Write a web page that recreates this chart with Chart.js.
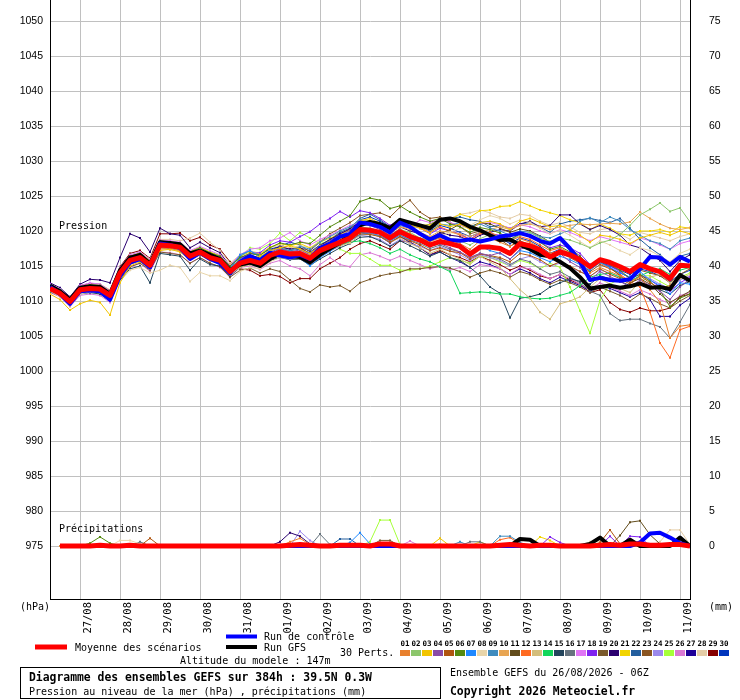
<!DOCTYPE html>
<html>
<head>
<meta charset="utf-8">
<script src="https://cdn.jsdelivr.net/npm/chart.js@4.4.1/dist/chart.umd.min.js"></script>
<style>
  html, body { margin: 0; padding: 0; background: #fff; }
  canvas { display: block; }
</style>
</head>
<body>
<canvas id="gefs" width="740" height="700"></canvas>
<script>
// echeances (heures depuis 26/08 06Z)
const hours = [0,6,12,18,24,30,36,42,48,54,60,66,72,78,84,90,96,102,108,114,120,126,132,138,144,150,156,162,168,174,180,186,192,198,204,210,216,222,228,234,240,246,252,258,264,270,276,282,288,294,300,306,312,318,324,330,336,342,348,354,360,366,372,378,384];
const dayHours = [18,42,66,90,114,138,162,186,210,234,258,282,306,330,354,378];
const dayLabels = ["27/08","28/08","29/08","30/08","31/08","01/09","02/09","03/09","04/09","05/09","06/09","07/09","08/09","09/09","10/09","11/09"];
const pressTicks = [975,980,985,990,995,1000,1005,1010,1015,1020,1025,1030,1035,1040,1045,1050];
const rainTicks = [0,5,10,15,20,25,30,35,40,45,50,55,60,65,70,75];

// pression
const meanP = [1011.8,1011.1,1009.9,1011.6,1011.8,1011.7,1010.8,1014.0,1015.8,1016.2,
  1015.1,1018.0,1017.9,1017.7,1016.4,1017.0,1016.2,1015.8,1014.2,1015.4,
  1015.8,1015.4,1016.5,1017.0,1016.7,1016.8,1016.1,1017.2,1017.8,1018.4,
  1019.0,1020.2,1020.1,1019.8,1019.0,1019.9,1019.2,1018.7,1018.0,1018.5,
  1018.2,1017.8,1016.7,1017.7,1017.7,1017.5,1016.8,1018.2,1017.9,1017.3,
  1016.3,1017.0,1016.6,1015.9,1014.9,1015.9,1015.5,1014.9,1014.2,1015.2,
  1014.6,1014.2,1013.2,1015.1,1015.0];
const controlP = [1012.0,1011.0,1009.6,1011.4,1011.5,1011.4,1010.2,1013.6,1015.5,1016.0,
  1014.8,1018.2,1018.0,1017.6,1016.0,1016.9,1016.0,1015.4,1014.0,1015.6,
  1016.4,1015.8,1016.9,1016.5,1016.2,1016.6,1016.0,1017.6,1018.2,1019.2,
  1019.6,1021.2,1021.0,1020.6,1019.8,1021.2,1020.6,1019.6,1018.8,1019.4,
  1018.7,1018.6,1018.8,1018.5,1018.8,1019.2,1019.4,1019.7,1019.3,1018.6,
  1018.2,1019.0,1017.5,1015.6,1013.0,1013.3,1013.0,1012.9,1013.1,1014.6,
  1016.3,1016.2,1015.2,1016.3,1015.6];
const gfsP = [1012.2,1011.4,1010.2,1011.9,1012.1,1012.0,1011.0,1014.4,1016.2,1016.6,
  1015.3,1018.4,1018.3,1018.1,1016.8,1017.2,1016.6,1016.0,1014.4,1015.2,
  1015.5,1015.0,1016.0,1016.8,1016.4,1016.3,1015.5,1016.6,1017.5,1018.4,
  1019.4,1020.8,1021.3,1021.0,1020.4,1021.6,1021.2,1020.8,1020.4,1021.6,
  1021.8,1021.4,1020.6,1020.1,1019.4,1018.7,1018.8,1018.0,1017.4,1016.6,
  1016.4,1015.6,1014.7,1013.4,1011.8,1012.0,1012.2,1011.9,1012.1,1012.5,
  1011.9,1012.0,1011.7,1013.7,1012.9];

const p01 = [1011.6,1010.8,1009.5,1011.2,1011.5,1011.6,1010.4,1013.5,1015.2,1015.8,
  1014.9,1017.4,1017.6,1017.2,1016.0,1016.6,1016.0,1015.4,1014.0,1015.0,
  1015.6,1015.1,1016.0,1016.8,1016.9,1016.5,1015.8,1016.9,1017.6,1018.6,
  1019.2,1020.0,1020.3,1019.6,1018.8,1020.1,1019.6,1018.9,1018.5,1019.0,
  1018.7,1018.2,1017.4,1018.6,1019.0,1018.4,1017.8,1018.9,1018.4,1017.6,
  1016.8,1017.2,1016.3,1015.5,1014.0,1014.8,1014.2,1013.6,1012.8,1013.4,
  1011.6,1009.8,1004.7,1006.4,1006.6];
const p02 = [1012.0,1011.4,1010.2,1011.8,1012.2,1012.0,1011.3,1014.3,1016.0,1016.5,
  1015.6,1018.3,1018.0,1017.9,1016.8,1017.4,1016.5,1016.1,1014.6,1015.9,
  1016.3,1015.6,1016.3,1016.6,1016.2,1016.6,1016.5,1017.5,1018.0,1018.7,
  1019.5,1020.6,1020.4,1020.0,1019.3,1020.2,1019.8,1019.0,1018.6,1019.2,
  1018.9,1018.6,1018.0,1018.9,1019.5,1019.2,1018.6,1019.4,1019.8,1019.0,
  1018.5,1019.0,1018.7,1018.2,1017.6,1018.3,1018.7,1019.5,1020.8,1022.3,
  1023.1,1024.0,1022.8,1023.3,1021.3];
const p03 = [1011.0,1010.2,1008.7,1009.6,1010.1,1009.8,1008.0,1012.6,1015.0,1015.6,
  1014.6,1017.2,1017.4,1017.0,1015.9,1016.6,1015.8,1015.3,1014.0,1015.2,
  1016.0,1016.4,1017.2,1017.6,1017.9,1017.4,1016.8,1017.9,1018.4,1018.9,
  1019.8,1021.4,1021.8,1021.1,1020.5,1021.6,1020.9,1020.4,1019.7,1021.0,
  1020.6,1021.0,1020.2,1021.2,1021.4,1021.0,1020.2,1021.4,1021.8,1021.2,
  1020.6,1020.8,1020.2,1019.4,1018.4,1019.4,1019.2,1018.8,1018.2,1019.0,
  1019.4,1019.8,1019.4,1020.0,1019.6];
const p04 = [1011.9,1011.2,1010.0,1011.7,1012.0,1011.9,1011.0,1014.1,1015.9,1016.4,
  1015.3,1018.1,1017.9,1017.6,1016.5,1017.2,1016.4,1015.9,1014.4,1015.7,
  1016.3,1016.0,1017.0,1017.5,1017.0,1017.3,1016.6,1017.8,1018.6,1019.3,
  1020.1,1021.0,1020.8,1020.2,1019.4,1020.3,1019.5,1018.6,1017.8,1018.2,
  1017.6,1017.0,1016.2,1016.8,1016.5,1016.9,1016.0,1017.4,1017.8,1017.0,
  1016.2,1016.8,1015.6,1014.8,1013.0,1014.2,1013.5,1012.8,1012.0,1013.0,
  1012.2,1011.4,1010.2,1012.0,1013.2];
const p05 = [1011.5,1010.9,1009.8,1011.5,1011.6,1011.4,1010.7,1013.8,1015.6,1016.0,
  1014.8,1017.7,1017.8,1017.5,1016.2,1016.9,1016.1,1015.6,1014.3,1015.2,
  1015.6,1015.2,1016.2,1016.8,1016.3,1016.5,1015.7,1016.8,1017.3,1018.0,
  1018.6,1019.6,1019.5,1019.2,1018.4,1019.2,1018.6,1018.0,1017.2,1017.6,
  1017.1,1016.9,1016.0,1016.7,1016.5,1016.2,1015.6,1016.8,1016.5,1015.9,
  1015.0,1015.6,1015.0,1014.2,1013.5,1014.6,1013.8,1013.2,1012.4,1013.6,
  1012.6,1011.8,1012.2,1013.4,1013.0];
const p06 = [1012.1,1011.5,1010.3,1012.0,1012.3,1012.2,1011.2,1014.6,1016.4,1016.8,
  1015.7,1018.6,1018.4,1018.2,1017.0,1017.6,1016.9,1016.4,1015.0,1016.2,
  1016.8,1016.5,1017.6,1018.3,1018.0,1018.4,1018.2,1019.4,1020.6,1021.4,
  1022.2,1024.2,1024.7,1024.4,1023.2,1023.6,1022.7,1022.0,1021.4,1021.8,
  1021.0,1020.6,1019.8,1020.5,1020.2,1019.7,1018.8,1019.6,1019.2,1018.4,
  1017.4,1017.8,1017.0,1016.2,1015.0,1015.8,1015.2,1014.4,1013.2,1013.8,
  1012.8,1011.5,1009.2,1010.4,1011.0];
const p07 = [1011.7,1011.0,1009.8,1011.5,1011.7,1011.8,1010.9,1014.2,1016.1,1016.3,
  1015.4,1018.2,1018.1,1017.8,1016.6,1017.1,1016.3,1015.8,1014.6,1016.6,
  1017.2,1016.4,1016.8,1017.0,1016.4,1016.2,1015.0,1016.2,1017.1,1018.0,
  1018.6,1019.5,1019.8,1019.3,1018.6,1019.4,1018.8,1018.5,1017.9,1018.3,
  1018.0,1017.6,1016.8,1017.8,1017.2,1016.8,1016.0,1017.2,1016.9,1016.2,
  1015.6,1016.4,1015.9,1015.2,1014.4,1015.5,1014.8,1014.0,1013.4,1014.2,
  1013.0,1012.2,1011.0,1012.6,1012.4];
const p08 = [1011.4,1010.6,1009.4,1011.0,1011.3,1011.2,1010.2,1012.8,1014.4,1014.8,
  1014.0,1014.4,1015.1,1014.8,1012.8,1014.1,1013.6,1013.6,1012.9,1014.2,
  1014.8,1014.6,1015.6,1016.2,1016.0,1016.1,1015.6,1016.7,1017.5,1018.2,
  1019.1,1020.0,1020.0,1019.5,1018.7,1019.7,1019.4,1019.0,1018.4,1019.2,
  1019.8,1020.4,1020.8,1021.6,1022.2,1021.8,1021.0,1021.6,1021.2,1020.4,
  1019.6,1020.1,1019.4,1018.5,1017.6,1018.6,1018.0,1017.2,1016.6,1017.6,
  1017.2,1016.4,1015.6,1016.8,1017.4];
const p09 = [1012.3,1011.4,1010.1,1011.9,1012.1,1012.0,1011.1,1014.4,1016.2,1016.7,
  1015.6,1018.5,1018.3,1018.0,1016.9,1017.5,1016.8,1016.3,1014.9,1016.4,
  1017.2,1016.2,1017.2,1017.6,1017.2,1017.8,1017.4,1018.4,1019.2,1020.0,
  1020.6,1021.6,1021.3,1020.8,1020.0,1020.8,1020.4,1020.8,1020.2,1021.0,
  1020.8,1021.2,1020.6,1021.0,1020.4,1020.0,1019.4,1020.0,1019.8,1019.2,
  1019.0,1019.6,1020.1,1021.4,1021.9,1021.2,1022.0,1021.4,1020.2,1019.4,
  1018.6,1018.2,1017.4,1018.6,1019.0];
const p10 = [1011.8,1011.2,1010.0,1011.7,1011.9,1011.9,1011.0,1014.0,1015.8,1016.3,
  1015.2,1018.0,1017.8,1017.6,1016.4,1017.0,1016.2,1015.8,1014.4,1015.6,
  1016.0,1015.7,1016.6,1017.0,1016.8,1017.1,1016.6,1017.6,1018.2,1018.9,
  1019.6,1020.8,1020.9,1020.4,1019.6,1020.6,1020.2,1019.8,1019.2,1020.0,
  1019.8,1019.6,1019.2,1019.8,1020.2,1020.6,1020.2,1020.8,1021.0,1020.6,
  1020.2,1020.6,1020.8,1021.0,1020.9,1021.0,1021.1,1021.0,1021.3,1022.7,
  1021.8,1021.0,1020.4,1020.2,1020.5];
const p11 = [1011.9,1011.2,1010.1,1011.6,1011.9,1011.8,1011.1,1014.2,1016.0,1016.4,
  1015.2,1018.0,1017.8,1017.5,1016.3,1016.9,1016.0,1015.6,1014.0,1015.1,
  1015.4,1015.0,1016.2,1016.6,1016.2,1016.4,1015.9,1017.0,1017.8,1018.6,
  1019.3,1020.4,1020.2,1019.9,1019.0,1020.0,1019.4,1019.0,1018.6,1019.6,
  1020.2,1021.0,1020.6,1021.2,1021.0,1020.4,1019.8,1020.3,1020.0,1019.3,
  1018.4,1018.8,1017.6,1016.4,1015.0,1015.6,1014.8,1013.6,1012.6,1013.2,
  1012.4,1011.0,1009.8,1010.6,1011.4];
const p12 = [1011.7,1011.1,1009.9,1011.4,1011.7,1011.6,1010.7,1013.9,1015.7,1016.1,
  1015.0,1017.9,1017.8,1017.6,1016.2,1016.9,1016.2,1015.6,1014.1,1015.3,
  1015.9,1015.6,1016.7,1017.3,1017.1,1017.0,1016.4,1017.4,1018.0,1018.6,
  1019.2,1020.3,1020.1,1019.7,1019.2,1020.4,1020.8,1020.5,1019.8,1020.6,
  1020.0,1019.4,1018.8,1019.6,1019.8,1019.2,1018.6,1019.2,1018.8,1018.0,
  1017.2,1017.6,1016.8,1015.9,1014.8,1015.4,1014.6,1013.8,1012.8,1012.0,
  1008.4,1004.0,1001.9,1005.9,1006.4];
const p13 = [1011.5,1010.8,1009.6,1011.3,1011.5,1011.4,1010.5,1013.6,1015.3,1015.8,
  1014.8,1017.5,1017.3,1017.2,1015.9,1016.7,1015.8,1015.3,1013.8,1014.8,
  1015.2,1015.0,1016.0,1016.4,1016.0,1016.3,1015.4,1016.5,1017.2,1017.9,
  1018.3,1019.4,1019.6,1019.2,1018.4,1019.0,1018.2,1017.6,1016.8,1017.4,
  1016.6,1016.0,1015.2,1016.4,1015.6,1014.8,1013.2,1011.6,1010.4,1008.4,
  1007.4,1009.6,1010.0,1010.6,1012.0,1013.2,1012.4,1011.8,1011.2,1012.8,
  1013.4,1013.8,1012.6,1013.2,1013.8];
const p14 = [1012.2,1011.6,1010.4,1012.0,1012.1,1011.9,1011.0,1014.5,1016.3,1016.5,
  1015.4,1018.2,1018.0,1017.8,1016.6,1017.4,1016.6,1016.1,1014.7,1015.9,
  1016.2,1015.8,1016.4,1016.9,1016.6,1016.4,1015.8,1016.8,1017.6,1018.0,
  1018.4,1018.6,1018.2,1017.6,1016.8,1017.4,1016.6,1016.0,1015.6,1014.9,
  1014.2,1011.1,1011.2,1011.3,1011.2,1011.0,1011.0,1010.6,1010.4,1010.3,
  1010.4,1010.8,1011.2,1012.2,1013.4,1013.8,1014.0,1013.4,1012.8,1013.6,
  1014.2,1014.6,1013.8,1014.4,1014.8];
const p15 = [1011.3,1010.7,1009.5,1011.0,1011.2,1011.0,1010.0,1013.0,1014.6,1015.0,
  1012.6,1016.8,1016.6,1016.4,1014.4,1016.0,1015.2,1015.0,1013.6,1014.8,
  1015.3,1014.9,1015.8,1016.2,1015.9,1016.0,1015.1,1016.0,1016.8,1017.6,
  1018.2,1019.1,1019.2,1018.6,1017.8,1018.6,1017.9,1017.2,1016.4,1017.0,
  1016.2,1015.8,1014.8,1013.6,1012.0,1011.1,1007.6,1010.4,1010.6,1011.0,
  1012.0,1012.6,1013.2,1012.8,1012.4,1013.6,1013.2,1012.8,1012.2,1012.6,
  1012.2,1011.6,1011.0,1012.2,1012.8];
const p16 = [1011.6,1011.0,1009.8,1011.4,1011.6,1011.5,1010.6,1013.7,1015.5,1015.9,
  1014.9,1017.6,1017.5,1017.3,1016.0,1016.7,1016.0,1015.5,1013.9,1015.0,
  1015.6,1015.3,1016.3,1016.9,1016.5,1016.8,1016.2,1017.1,1017.6,1018.1,
  1018.8,1019.8,1019.7,1019.3,1018.6,1019.4,1018.7,1018.2,1017.5,1018.0,
  1017.4,1017.0,1016.2,1016.8,1016.4,1016.0,1015.2,1016.0,1015.6,1014.6,
  1013.8,1014.2,1013.4,1012.6,1011.4,1010.8,1008.2,1007.2,1007.4,1007.4,
  1006.8,1006.3,1004.7,1007.0,1009.5];
const p17 = [1012.4,1011.7,1010.5,1012.2,1012.6,1012.4,1011.4,1014.8,1016.6,1017.0,
  1015.9,1018.7,1018.6,1018.4,1017.2,1017.8,1017.2,1016.6,1015.1,1016.6,
  1017.4,1017.6,1018.6,1019.0,1019.8,1018.6,1018.0,1018.8,1019.4,1020.1,
  1020.8,1021.2,1021.0,1020.6,1019.8,1020.8,1020.4,1021.6,1021.2,1021.8,
  1021.2,1020.8,1020.4,1021.0,1021.2,1020.9,1020.4,1020.9,1020.6,1020.0,
  1019.6,1020.2,1019.8,1019.2,1018.6,1019.2,1018.8,1018.4,1018.0,1019.0,
  1018.6,1018.0,1017.4,1018.2,1018.6];
const p18 = [1012.0,1011.3,1010.1,1011.8,1012.0,1012.0,1011.1,1014.3,1016.2,1016.6,
  1015.5,1018.4,1018.2,1018.0,1016.8,1017.4,1016.7,1016.2,1014.7,1016.0,
  1016.8,1016.9,1018.0,1018.6,1018.4,1019.2,1019.9,1021.0,1021.8,1022.8,
  1022.0,1022.9,1022.6,1021.8,1020.8,1021.6,1021.0,1020.4,1019.6,1020.4,
  1020.0,1019.6,1018.8,1019.8,1019.6,1019.4,1018.6,1019.6,1019.2,1018.4,
  1017.6,1018.0,1017.6,1016.8,1015.2,1015.8,1015.0,1014.2,1013.2,1013.8,
  1013.0,1012.0,1011.4,1012.6,1013.4];
const p19 = [1011.4,1010.7,1009.4,1011.1,1011.3,1011.1,1010.1,1013.2,1014.9,1015.4,
  1014.4,1017.0,1016.8,1016.6,1015.4,1016.2,1015.4,1014.9,1013.4,1014.4,
  1014.7,1014.0,1014.6,1014.2,1013.0,1011.8,1011.3,1012.3,1012.0,1012.2,
  1011.4,1012.6,1013.1,1013.6,1013.9,1014.1,1014.6,1014.6,1014.8,1014.9,
  1014.7,1014.2,1013.4,1014.0,1014.4,1014.0,1013.4,1014.2,1013.8,1013.0,
  1012.4,1013.0,1012.6,1012.0,1011.2,1012.0,1011.4,1010.8,1010.0,1011.0,
  1010.4,1009.6,1009.0,1010.0,1010.8];
const p20 = [1012.6,1011.9,1010.6,1012.4,1013.1,1013.0,1012.6,1016.2,1019.6,1019.0,
  1017.0,1020.4,1019.6,1019.4,1017.6,1018.4,1017.6,1016.9,1015.0,1016.2,
  1016.6,1016.1,1017.2,1017.8,1017.4,1017.6,1016.8,1017.9,1018.8,1019.6,
  1020.3,1021.4,1021.2,1020.6,1019.8,1020.6,1020.0,1019.6,1019.0,1019.8,
  1019.4,1019.2,1018.6,1019.4,1019.8,1020.2,1020.0,1021.0,1021.4,1020.6,
  1020.8,1022.3,1022.3,1021.0,1020.2,1020.8,1020.2,1019.4,1018.0,1017.6,
  1016.6,1015.8,1014.2,1015.8,1016.6];
const p21 = [1011.9,1011.3,1010.3,1011.9,1012.2,1012.2,1011.4,1014.6,1016.4,1016.9,
  1015.8,1018.6,1018.5,1018.3,1017.1,1017.7,1017.0,1016.5,1015.2,1016.4,
  1017.0,1016.7,1017.7,1018.2,1017.9,1018.2,1017.6,1018.4,1019.0,1019.5,
  1020.2,1021.6,1021.5,1021.0,1020.3,1021.4,1021.1,1020.8,1020.9,1021.7,
  1021.6,1022.4,1022.0,1022.9,1023.0,1023.5,1023.6,1024.2,1023.6,1023.0,
  1022.6,1022.2,1021.6,1021.2,1020.2,1021.0,1020.4,1019.6,1019.4,1020.0,
  1020.0,1020.2,1019.8,1020.6,1020.4];
const p22 = [1011.6,1010.9,1009.7,1011.4,1011.6,1011.5,1010.6,1013.8,1015.6,1016.0,
  1015.0,1017.8,1017.6,1017.4,1016.2,1016.8,1016.0,1015.6,1014.0,1015.4,
  1016.0,1015.8,1016.8,1017.4,1017.2,1017.4,1016.8,1018.0,1018.8,1019.8,
  1020.4,1021.8,1022.4,1021.6,1020.6,1021.4,1021.0,1020.6,1021.0,1021.6,
  1021.8,1022.0,1021.6,1021.4,1020.6,1020.8,1020.4,1021.0,1021.2,1020.6,
  1019.8,1021.0,1021.4,1021.6,1021.8,1021.5,1021.2,1021.8,1020.4,1018.8,
  1017.6,1016.6,1015.4,1016.4,1016.8];
const p23 = [1012.1,1011.4,1010.2,1011.9,1012.1,1012.0,1011.2,1014.3,1016.1,1016.6,
  1015.5,1018.4,1018.2,1018.0,1016.8,1017.4,1016.6,1016.2,1014.8,1015.8,
  1016.4,1016.2,1017.2,1017.7,1017.4,1017.6,1017.2,1018.4,1019.6,1020.4,
  1021.2,1022.2,1022.4,1022.6,1022.0,1023.4,1024.4,1022.7,1021.8,1022.0,
  1021.2,1020.6,1019.6,1020.0,1019.4,1018.8,1017.8,1018.6,1018.0,1017.2,
  1016.4,1016.9,1016.2,1015.4,1014.2,1015.2,1014.6,1014.0,1013.4,1014.4,
  1014.0,1013.6,1012.6,1013.8,1014.6];
const p24 = [1011.5,1010.9,1009.6,1011.3,1011.6,1011.5,1010.5,1013.7,1015.4,1015.9,
  1014.9,1017.6,1017.5,1017.2,1016.1,1016.8,1016.1,1015.6,1014.2,1015.1,
  1015.8,1015.4,1016.4,1016.9,1016.8,1016.2,1015.5,1016.6,1017.2,1017.8,
  1018.6,1019.4,1019.2,1018.8,1017.9,1018.8,1018.2,1017.8,1017.2,1017.8,
  1017.2,1016.6,1015.8,1016.6,1016.2,1015.8,1015.0,1016.0,1016.4,1015.6,
  1015.0,1015.4,1014.8,1014.2,1013.6,1014.4,1014.0,1013.4,1012.8,1013.6,
  1013.2,1012.4,1011.8,1013.0,1013.6];
const p25 = [1011.7,1011.0,1009.8,1011.5,1011.8,1011.7,1010.8,1014.0,1015.9,1016.2,
  1015.1,1017.9,1017.8,1017.6,1016.3,1016.9,1016.1,1015.7,1014.3,1016.2,
  1017.6,1017.4,1018.2,1019.7,1018.6,1019.8,1019.0,1018.2,1018.6,1017.4,
  1016.8,1016.8,1016.0,1015.1,1015.1,1014.4,1014.4,1014.6,1015.0,1015.6,
  1016.2,1015.8,1015.4,1016.4,1016.2,1015.6,1015.0,1015.8,1015.4,1014.6,
  1015.4,1014.8,1012.0,1008.6,1005.4,1010.1,1012.4,1013.2,1012.8,1013.6,
  1013.6,1012.8,1012.0,1013.4,1014.0];
const p26 = [1011.2,1010.6,1009.2,1010.8,1011.0,1010.8,1009.8,1013.0,1014.8,1015.4,
  1014.2,1017.0,1016.9,1016.6,1015.4,1016.2,1015.4,1014.8,1013.4,1014.8,
  1015.0,1014.5,1015.4,1015.8,1015.0,1014.6,1013.6,1015.2,1016.2,1015.2,
  1014.9,1016.6,1016.9,1016.4,1015.8,1016.4,1015.8,1015.2,1014.6,1015.0,
  1014.4,1014.8,1014.2,1015.2,1015.0,1014.6,1013.8,1014.8,1014.6,1013.8,
  1013.2,1013.8,1013.2,1012.4,1011.6,1012.6,1012.0,1011.4,1010.8,1011.6,
  1011.0,1010.2,1009.6,1010.8,1011.2];
const p27 = [1011.8,1011.0,1009.9,1011.6,1011.9,1011.8,1010.9,1014.1,1015.8,1016.3,
  1015.1,1018.1,1018.0,1017.7,1016.4,1017.1,1016.3,1015.9,1014.3,1015.3,
  1015.7,1015.2,1016.4,1016.8,1016.6,1016.5,1015.6,1016.6,1017.4,1018.2,
  1018.8,1019.8,1019.6,1019.2,1018.3,1019.2,1018.4,1017.6,1016.6,1017.0,
  1016.2,1015.6,1014.8,1015.6,1015.2,1014.6,1013.8,1014.6,1014.0,1013.2,
  1012.6,1013.4,1012.8,1012.2,1011.4,1012.0,1011.8,1011.2,1010.6,1011.2,
  1010.2,1007.8,1007.8,1009.4,1010.4];
const p28 = [1012.2,1011.6,1010.4,1012.1,1012.4,1012.4,1011.6,1014.8,1016.6,1017.0,
  1016.0,1018.8,1018.8,1018.6,1019.0,1019.7,1018.4,1017.2,1015.4,1016.6,
  1017.2,1016.8,1017.6,1018.0,1017.6,1017.9,1017.6,1018.6,1019.2,1019.8,
  1020.4,1021.0,1020.8,1020.6,1020.2,1021.0,1020.6,1020.4,1020.2,1021.4,
  1021.8,1022.4,1022.6,1023.0,1022.6,1022.0,1021.8,1022.4,1022.2,1021.4,
  1020.8,1021.2,1020.6,1019.8,1019.6,1020.2,1020.4,1019.6,1018.8,1019.8,
  1019.4,1019.0,1018.6,1019.2,1019.6];
const p29 = [1012.3,1011.6,1010.5,1012.2,1012.5,1012.4,1011.5,1014.9,1016.8,1017.2,
  1016.1,1019.6,1019.6,1019.7,1018.6,1019.1,1018.0,1017.4,1015.6,1014.6,
  1014.4,1013.6,1013.8,1013.5,1012.6,1013.2,1013.2,1014.6,1015.4,1016.2,
  1017.4,1018.2,1018.6,1018.0,1017.4,1018.6,1018.4,1017.6,1016.6,1017.2,
  1016.6,1016.2,1015.6,1016.4,1015.8,1015.2,1014.4,1015.0,1014.4,1013.6,
  1013.2,1013.8,1013.0,1012.4,1011.2,1011.6,1009.8,1008.8,1008.4,1009.0,
  1008.6,1008.6,1009.0,1010.6,1011.0];
const p30 = [1012.0,1011.3,1010.0,1011.7,1011.9,1011.8,1010.9,1014.2,1016.0,1016.4,
  1015.2,1018.2,1018.0,1017.8,1016.6,1017.2,1016.4,1016.0,1014.5,1015.8,
  1016.8,1016.6,1017.4,1017.8,1018.4,1018.0,1017.0,1018.0,1018.6,1019.6,
  1020.2,1021.6,1022.0,1021.4,1020.6,1021.5,1021.0,1020.6,1020.0,1020.8,
  1020.4,1019.8,1019.2,1019.8,1019.6,1019.0,1018.2,1019.0,1018.6,1017.8,
  1016.8,1017.4,1016.6,1015.8,1014.6,1015.6,1015.0,1014.4,1013.8,1014.6,
  1014.2,1013.6,1012.8,1013.8,1014.4];

// precipitations (mm / 6h)
const meanR = [null,0,0,0,0,0.1,0,0,0.1,0, 0,0,0,0,0,0,0,0,0,0, 0,0,0,0,0.1,0.2,0.1,0,0,0.1,
  0.1,0.1,0,0.3,0.3,0,0,0,0,0, 0,0,0,0,0,0.1,0.2,0.1,0,0.1, 0.1,0,0,0,0,0.1,0.2,0.1,0.3,0.3, 0.1,0.1,0.2,0.2,0];
const controlR = [null,0,0,0,0,0,0,0,0,0, 0,0,0,0,0,0,0,0,0,0, 0,0,0,0,0,0,0,0,0,0,
  0,0,0,0,0,0,0,0,0,0, 0,0,0,0,0,0,0,0,0,0, 0,0,0,0,0,0,0,0,0,0.5, 1.8,1.9,1.2,0.4,0];
const gfsR = [null,0,0,0,0,0,0,0,0,0, 0,0,0,0,0,0,0,0,0,0, 0,0,0,0,0,0,0,0,0,0,
  0,0,0,0,0,0,0,0,0,0, 0,0,0,0,0,0,0,1.0,0.9,0, 0,0,0,0,0.3,1.2,0,0,0.9,0, 0,0,0,1.2,0];
const r01 = [null,0,0,0,0,0,0,0,0,0, 0,0,0,0,0,0,0,0,0,0, 0,0,0,0,0.6,1.1,0.2,0,0,0,
  0,0,0,0,0,0,0,0,0,0, 0,0,0,0,0,0,0,0,0,0, 0,0,0,0,0,0,0,0,0,0, 0,0,0,0,0];
const r02 = [null,0,0,0,0,0,0,0,0,0, 0,0,0,0,0,0,0,0,0,0, 0,0,0,0,0,0,0,0,0,0,
  0,0,0,0,0,0,0,0,0,0, 0,0,0,0,0,0,0,0,0,0, 0,0,0,0,0,0,0,0,0,0, 0,0,0,0,0];
const r03 = [null,0,0,0,0,0,0,0,0,0, 0,0,0,0,0,0,0,0,0,0, 0,0,0,0,0,0,0,0,0,0,
  0,0,0,0,0,0,0,0,0,1.1, 0,0,0,0,0,0,0,0,0,0, 0,0,0,0,0,0,0,0,0,0, 0,0,0,0,0];
const r04 = [null,0,0,0,0,0,0,0,0,0, 0,0,0,0,0,0,0,0,0,0, 0,0,0,0,0,0,0,0,0,0,
  0,0,0,0,0,0,0,0,0,0, 0,0,0,0,0,0,0,0,0,0, 0,0,0,0,0,0,0,0,0,0, 0,0,0,0,0];
const r05 = [null,0,0,0,0,0,0,0,0,0, 1.1,0,0,0,0,0,0,0,0,0, 0,0,0,0,0,0,0,0,0,0,
  0,0,0,0,0,0,0,0,0,0, 0,0,0,0,0,0,0,0,0,0, 0,0,0,0,0,0.5,2.3,0.3,0,0, 0,0,0,0,0];
const r06 = [null,0,0,0,0.4,1.3,0.4,0,0,0, 0,0,0,0,0,0,0,0,0,0, 0,0,0,0,0,0,0,0,0,0,
  0,0,0,0,0,0,0,0,0,0, 0,0,0,0,0,0,0,0,0,0, 0,0,0,0,0,0,0,0,0,0, 0,0,0,0,0];
const r07 = [null,0,0,0,0,0,0,0,0,0, 0,0,0,0,0,0,0,0,0,0, 0,0,0,0,0,0,0,0,0,0,
  0.5,1.9,0.3,0,0,0,0,0,0,0, 0,0,0,0,0,0,0,0,0,0, 0,0,0,0,0,0,0,0,0,0, 0,0,0,0,0];
const r08 = [null,0,0,0,0,0,0,0.8,0.8,0.3, 0,0,0,0,0,0,0,0,0,0, 0,0,0,0,0,0,0,0,0,0,
  0,0,0,0,0,0,0,0,0,0, 0,0,0,0,0,0,0,0,0,0, 0,0,0,0,0,0,0,0,0,0, 0,0,0,0,0];
const r09 = [null,0,0,0,0,0,0,0,0,0, 0,0,0,0,0,0,0,0,0,0, 0,0,0,0,0,0,0,0,0,0,
  0,0,0,0,0,0,0,0,0,0, 0,0.6,0,0,0,1.4,1.4,0.5,0,0, 0,0,0,0,0,0,0,0,0,0, 0,0,0,0,0];
const r10 = [null,0,0,0,0,0,0,0,0,0, 0,0,0,0,0,0,0,0,0,0, 0,0,0,0,0,0,0,0,0,0,
  0,0,0,0,0,0,0,0,0,0, 0,0,0,0,0,0,0.3,0,0,0, 0,0,0,0,0,0,0,0,0,0, 0,0,0,0,0];
const r11 = [null,0,0,0,0,0,0,0,0,0, 0,0,0,0,0,0,0,0,0,0, 0,0,0,0,0,0,0,0,0,0,
  0,0,0,0,0,0,0,0,0,0, 0,0,0,0,0,0,0,0,0,0, 0,0,0,0,0,0,0,1.5,3.4,3.6, 1.6,0.3,0,0,0];
const r12 = [null,0,0,0,0,0,0,0,0,0, 0,0,0,0,0,0,0,0,0,0, 0,0,0,0,0,0,0,0,0,0,
  0,0,0,0,0,0,0,0,0,0, 0,0,0,0,0,0.9,1.2,0.3,0,0, 0,0,0,0,0,0,0,0,0,0, 0,0,0,0,0];
const r13 = [null,0,0,0,0,0,0,0,0,0, 0,0,0,0,0,0,0,0,0,0, 0,0,0,0,0,0,0,0,0,0,
  0,0,0,0,0,0,0,0,0,0.3, 0,0,0,0,0,0,0,0,0,0, 0,0,0,0,0,0,0,0,0,0, 0,0,0,0,0];
const r14 = [null,0,0,0,0,0,0,0,0,0, 0,0,0,0,0,0,0,0,0,0, 0,0,0,0,0,0,0,0,0,0,
  0,0,0,0,0,0,0,0,0,0, 0,0,0,0,0,0,0,0,0,0, 0,0,0,0,0,0,0,0,0,0, 0,0,0,0,0];
const r15 = [null,0,0,0,0,0,0,0,0,0, 0,0,0,0,0,0,0,0,0,0, 0,0,0,0,0,0,0.3,0,0,0,
  0,0,0,0,0,0,0,0,0,0, 0,0,0,0,0,0,0,0,0,0, 0,0,0,0,0,0,0,0,0,0, 0,0,0,0,0];
const r16 = [null,0,0,0,0,0,0,0,0,0.6, 0,0,0,0,0,0,0,0,0,0, 0,0,0,0,0,0,0,1.7,0.2,0,
  0,0,0,0,0,0,0,0,0,0, 0,0,0.6,0.6,0,0,0,0,0,0, 0,0,0,0,0,0,0,0,0,0, 0,0,0,0,0];
const r17 = [null,0,0,0,0,0,0,0,0,0, 0,0,0,0,0,0,0,0,0,0, 0,0,0,0,0,0.4,0,0,0,0,
  0,0,0,0,0,0,0,0,0,0, 0,0,0,0,0,0,0,0,0,0, 0,0,0,0,0,0,0,0,0,0, 0,0,0,0,0];
const r18 = [null,0,0,0,0,0,0,0,0,0, 0,0,0,0,0,0,0,0,0,0, 0,0,0,0,0,0,0,0,0,0,
  0,0,0,0,0,0,0,0,0,0, 0,0,0,0,0,0,0,0.4,0,0, 1.3,0.5,0,0,0,0,1.4,0,1.4,1.3, 0,0,0,0,0];
const r19 = [null,0,0,0,0,0,0,0,0,0, 0,0,0,0,0,0,0,0,0,0, 0,0,0,0,0,0,0,0,0,0,
  0,0,0,0.8,0.8,0,0,0,0,0, 0,0,0,0,0,0,0,0,0,0, 0,0,0,0,0,0,0,0,0,0, 0,0,0,0,0];
const r20 = [null,0,0,0,0,0,0,0,0,0, 0,0,0,0,0,0,0,0,0,0, 0,0,0,0.6,1.9,1.4,0.3,0,0,0,
  0,0,0,0,0,0,0,0,0,0, 0,0,0,0,0,0,0,0,0,0, 0,0,0,0,0,0,0,0,0,0, 0,0,0,0,0];
const r21 = [null,0,0,0,0,0,0,0,0,0, 0,0,0,0,0,0,0,0,0,0, 0,0,0,0,0,0,0,0,0,0,
  0,0,0,0,0,0,0,0,0,0, 0,0,0,0.6,0,0,0,0,0,1.3, 0.8,0,0,0,0,0,0,0,0,0, 0,0,0,0,0];
const r22 = [null,0,0,0,0,0,0,0,0,0, 0,0,0,0,0,0,0,0,0,0, 0,0,0,0,0,0,0,0,0,1.0,
  1.0,0,0,0,0,0,0,0,0,0, 0,0,0,0,0,0,0,0,0,0, 0,0,0,0,0,0,0,0,0,0, 0,0,0,0,0];
const r23 = [null,0,0,0,0,0,0,0,0,0, 0,0,0,0,0,0,0,0,0,0, 0,0,0,0,0,0,0,0,0,0,
  0,0,0,0,0,0,0,0,0,0, 0,0,0,0,0,0,0,0,0,0, 0,0,0,0,0,0,0,0,0,0, 0,0,0,0.3,0];
const r24 = [null,0,0,0,0,0,0,0,0,0, 0,0,0,0,0,0,0,0,0,0, 0,0,0,0,0,2.1,0.8,0,0,0,
  0,0,0,0,0,0,0,0,0,0, 0,0,0,0,0,0,0,0,0,0, 0,0,0,0,0,0,0,0,0,0, 0,0,0,0,0];
const r25 = [null,0,0,0,0,0,0,0,0,0, 0,0,0,0,0,0,0,0,0,0, 0,0,0,0,0,0,0,0,0,0,
  0,0,0.6,3.7,3.7,0.2,0,0,0,0, 0,0,0,0,0,0,0,0,0,0, 0,0,0,0,0,0,0,0,0,0, 0,0,0,0,0];
const r26 = [null,0,0,0,0,0,0,0,0,0, 0,0,0,0,0,0,0,0,0,0, 0,0,0,0,0,0,0,0,0,0,
  0,0,0,0,0,0,0.7,0,0,0, 0,0,0,0,0,0,0,0,0,0, 0,0,0,0,0,0,0,0,0,0, 0,0,0,0,0];
const r27 = [null,0,0,0,0,0,0,0,0,0, 0,0,0,0,0,0,0,0,0,0, 0,0,0,0,0.3,0,0,0,0,0,
  0,0,0,0,0,0,0,0,0,0, 0,0,0,0,0,0,0,0,0,0, 0,0,0,0,0,0,0,0,0,0, 0,0,0,0,0];
const r28 = [null,0,0,0,0,0,0,0,0,0, 0,0,0,0,0,0,0,0,0,0, 0,0,0,0,0,0,0,0,0,0,
  0,0,0,0,0,0,0,0,0,0, 0,0,0,0,0,0,0,0,0,0, 0,0,0,0,0.6,0.6,0,0,0,0, 0,0.6,2.3,2.3,0.2];
const r29 = [null,0,0,0,0,0,0,0,0,0, 0,0,0,0,0,0,0,0,0,0, 0,0,0,0,0,0,0,0,0,0,
  0,0,0,0,0,0,0,0,0,0, 0,0,0,0,0,0,0,0,0,0, 0,0,0,0,0,0,0,0,0,0, 0,0,0,0,0];
const r30 = [null,0,0,0,0,0,0,0,0,0, 0,0,0,0,0,0,0,0,0,0, 0,0,0,0,0,0,0,0,0,0,
  0,0,0,0,0,0,0,0,0,0, 0,0,0,0,0,0,0,0,0,0, 0,0,0,0,0,0,0,0,0,0.4, 0,0,0,0,0];

const pertColors = ["#E8802E","#8CC66B","#F2C500","#8A4BA6","#B05510","#558A10","#1E88FF","#E8D5AA","#3F8BBE","#E8A552",
  "#624C1B","#FF6A21","#D4BE7C","#12D65A","#23455C","#66737E","#E075F5","#7F22F0","#7B5A2C","#2B0070",
  "#F2D400","#235E9E","#8A5522","#9C89EC","#A6FF3A","#DA78D4","#1E0098","#E4CCA6","#860000","#0035BD"];
const pertP = [p01,p02,p03,p04,p05,p06,p07,p08,p09,p10,p11,p12,p13,p14,p15,p16,p17,p18,p19,p20,p21,p22,p23,p24,p25,p26,p27,p28,p29,p30];
const pertR = [r01,r02,r03,r04,r05,r06,r07,r08,r09,r10,r11,r12,r13,r14,r15,r16,r17,r18,r19,r20,r21,r22,r23,r24,r25,r26,r27,r28,r29,r30];

const MONO = '"DejaVu Sans Mono", "Liberation Mono", monospace';

function thick(data, color, w, axis, order) {
  return { data: data, yAxisID: axis, borderColor: color, backgroundColor: color, borderWidth: w,
    pointRadius: 0, borderJoinStyle: 'round', order: order };
}
function thin(data, color, axis, order) {
  return { data: data, yAxisID: axis, borderColor: color, backgroundColor: color, borderWidth: 1,
    pointRadius: 1.4, pointStyle: 'rect', pointBorderWidth: 0, pointBackgroundColor: color, order: order };
}

const datasets = [];
datasets.push(thick(meanR, '#FF0000', 5, 'y2', 0));
datasets.push(thick(meanP, '#FF0000', 5, 'y', 1));
datasets.push(thick(controlR, '#0000FF', 4, 'y2', 2));
datasets.push(thick(controlP, '#0000FF', 4, 'y', 3));
datasets.push(thick(gfsR, '#000000', 4, 'y2', 4));
datasets.push(thick(gfsP, '#000000', 4, 'y', 5));
pertP.forEach((d, k) => datasets.push(thin(d, pertColors[k], 'y', 10 + k)));
pertR.forEach((d, k) => datasets.push(thin(d, pertColors[k], 'y2', 10 + k)));

// pas de marge automatique autour des axes
function noPad(s) {
  s.paddingTop = 0; s.paddingBottom = 0; s.paddingLeft = 0; s.paddingRight = 0;
}

// textes, legende et cartouche
const decor = {
  id: 'decor',
  afterDraw(chart) {
    const c = chart.ctx;
    c.save();
    c.fillStyle = '#000';
    c.textBaseline = 'middle';
    c.font = '10px ' + MONO;
    c.fillText('Pression', 59, 226);
    c.fillText('Précipitations', 59, 529);
    c.fillText('(hPa)', 20, 607);
    c.fillText('(mm)', 709, 607);

    c.lineWidth = 5;
    c.strokeStyle = '#FF0000';
    c.beginPath(); c.moveTo(35, 647); c.lineTo(67, 647); c.stroke();
    c.lineWidth = 4;
    c.strokeStyle = '#0000FF';
    c.beginPath(); c.moveTo(226, 636.5); c.lineTo(257, 636.5); c.stroke();
    c.strokeStyle = '#000000';
    c.beginPath(); c.moveTo(226, 647); c.lineTo(257, 647); c.stroke();

    c.fillText('Moyenne des scénarios', 75, 648);
    c.fillText('Run de contrôle', 264, 637);
    c.fillText('Run GFS', 264, 648);
    c.fillText('30 Perts.', 340, 653);
    c.fillText('Altitude du modele : 147m', 180, 661);

    c.font = 'bold 7.5px ' + MONO;
    c.textAlign = 'center';
    for (let k = 0; k < 30; k++) {
      c.fillStyle = '#000';
      c.fillText(String(k + 1).padStart(2, '0'), 405 + 11 * k, 644);
      c.fillStyle = pertColors[k];
      c.fillRect(400 + 11 * k, 650, 10, 6);
    }
    c.textAlign = 'left';
    c.fillStyle = '#000';

    c.lineWidth = 1;
    c.strokeStyle = '#000';
    c.strokeRect(20.5, 667.5, 420, 31);
    c.font = 'bold 11.4px ' + MONO;
    c.fillText('Diagramme des ensembles GEFS sur 384h : 39.5N 0.3W', 29, 678);
    c.font = '10px ' + MONO;
    c.fillText('Pression au niveau de la mer (hPa) , précipitations (mm)', 29, 692);
    c.fillText('Ensemble GEFS du 26/08/2026 - 06Z', 450, 673);
    c.font = 'bold 11.4px ' + MONO;
    c.fillText('Copyright 2026 Meteociel.fr', 450, 692);
    c.restore();
  }
};

new Chart(document.getElementById('gefs'), {
  type: 'line',
  data: { labels: hours, datasets: datasets },
  plugins: [decor],
  options: {
    responsive: false,
    animation: false,
    devicePixelRatio: 1,
    layout: { padding: 0, autoPadding: false },
    plugins: { legend: { display: false }, tooltip: { enabled: false } },
    scales: {
      x: {
        type: 'linear',
        min: 0,
        max: 384,
        afterBuildTicks: (s) => { s.ticks = dayHours.map(v => ({ value: v })); },
        afterFit: (s) => { s.height = 101; noPad(s); },
        grid: { color: '#C0C0C0', drawTicks: false },
        border: { color: '#000', width: 1 },
        ticks: {
          autoSkip: false,
          minRotation: 90,
          maxRotation: 90,
          padding: 3,
          labelOffset: 8.5,
          color: '#000',
          font: { family: MONO, size: 10.5 },
          callback: (v, i) => dayLabels[i]
        }
      },
      y: {
        position: 'left',
        min: 967.43,
        max: 1053,
        afterBuildTicks: (s) => { s.ticks = pressTicks.map(v => ({ value: v })); },
        afterFit: (s) => { s.width = 50; noPad(s); },
        grid: { color: '#C0C0C0', drawTicks: false },
        border: { color: '#000', width: 1 },
        ticks: {
          padding: 7,
          color: '#000',
          font: { family: '"Liberation Sans", Arial, sans-serif', size: 10.5 },
          callback: (v) => String(v)
        }
      },
      y2: {
        position: 'right',
        min: -7.57,
        max: 78,
        afterBuildTicks: (s) => { s.ticks = rainTicks.map(v => ({ value: v })); },
        afterFit: (s) => { s.width = 50; noPad(s); },
        grid: { display: false, drawTicks: false },
        border: { color: '#000', width: 1 },
        ticks: {
          padding: 19,
          color: '#000',
          font: { family: '"Liberation Sans", Arial, sans-serif', size: 10.5 },
          callback: (v) => String(v)
        }
      }
    }
  }
});
</script>
</body>
</html>
